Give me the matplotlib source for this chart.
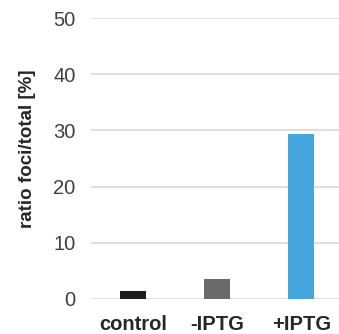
import matplotlib
matplotlib.use("Agg")
import matplotlib.pyplot as plt

categories = ["control", "-IPTG", "+IPTG"]
values = [1.4, 3.5, 29.4]
colors = ["#1e1e1e", "#6a6a6a", "#45a6dd"]
yticks = [0, 10, 20, 30, 40, 50]

plt.rcParams['font.family'] = ['Liberation Sans', 'DejaVu Sans']

fig = plt.figure(figsize=(3.39, 3.34), dpi=100)
ax = fig.add_axes([0.268, 0.105, 0.745, 0.841])

ax.bar(range(len(categories)), values, width=0.31, color=colors, zorder=3)
ax.set_xlim(-0.5, 2.5)
ax.set_ylim(0, 50)
ax.set_yticks(yticks)
ax.yaxis.grid(True, color="#d9d9d9", linewidth=1.2, zorder=0)
ax.set_axisbelow(True)
for s in ax.spines.values():
    s.set_visible(False)

ax.set_xticks(range(len(categories)))
ax.set_xticklabels(categories, fontsize=14.5, fontweight="bold", color="#262626")
ax.tick_params(axis="x", length=0, pad=11.5)
ax.tick_params(axis="y", length=0, pad=11, labelsize=14.5, labelcolor="#404040")
ax.set_ylabel("ratio foci/total [%]", fontsize=13.5, fontweight="bold", color="#262626")
ax.yaxis.set_label_coords(-0.218, 0.533)

fig.savefig("out.png", dpi=100)
